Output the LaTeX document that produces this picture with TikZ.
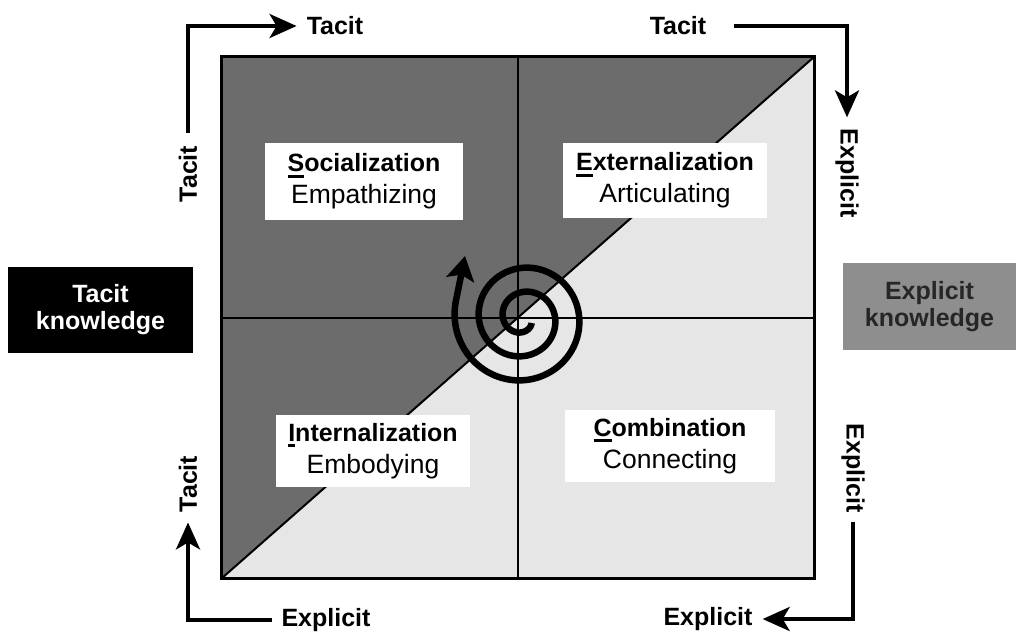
\documentclass[tikz,border=0pt]{standalone}
\usepackage{fontspec}
\setmainfont{Liberation Sans}
\usetikzlibrary{arrows.meta}
\definecolor{darkfill}{HTML}{6C6C6C}
\definecolor{lightfill}{HTML}{E6E6E6}
\definecolor{midfill}{HTML}{8E8E8E}
\newcommand\firstul[1]{\setbox0\hbox{#1}\rlap{\rule[-6pt]{\wd0}{3pt}}#1}
\tikzset{
  lbl/.style={font=\bfseries\fontsize{25}{28}\selectfont, inner sep=0pt},
  arr/.style={line width=4pt, -{Stealth[length=27pt,width=24pt,inset=7pt]}},
  quad/.style={fill=white, align=center, font=\fontsize{26.5}{32}\selectfont, inner sep=0pt},
  kbox/.style={align=center, inner sep=0pt, font=\bfseries\fontsize{25}{27}\selectfont},
}
\begin{document}
\begin{tikzpicture}[x=1pt,y=-1pt]
\useasboundingbox (0,0) rectangle (1016,632);
% main square
\node[minimum width=592pt, minimum height=521pt, inner sep=0pt] (sq) at (518,317.5) {};
\fill[darkfill] (sq.south west) -- (sq.north west) -- (sq.north east) -- cycle;
\fill[lightfill] (sq.south west) -- (sq.south east) -- (sq.north east) -- cycle;
\draw[line width=2pt] (sq.north) -- (sq.south);
\draw[line width=2pt] (sq.west) -- (sq.east);
\draw[line width=2pt] (sq.south west) -- (sq.north east);
\draw[line width=3pt] (sq.south west) rectangle (sq.north east);
% spiral
\coordinate (sptip) at (465,256);
\draw[line width=6.5pt, -{Stealth[length=24pt,width=28pt,inset=5pt]}]
  plot[domain=30:915, samples=300, variable=\t, smooth]
  ({523+(8+0.067*\t)*cos(\t)}, {318+(8+0.067*\t)*sin(\t)}) -- (sptip);
% quadrant labels
\node[quad, minimum width=198pt, minimum height=77pt] (soc) at (364,181.5)
  {{\bfseries\fontsize{25}{32}\selectfont\firstul{S}ocialization}\\Empathizing};
\node[quad, minimum width=204pt, minimum height=75pt] (ext) at (665,180.5)
  {{\bfseries\fontsize{25}{32}\selectfont\firstul{E}xternalization}\\Articulating};
\node[quad, minimum width=194pt, minimum height=72pt] (int) at (373,451)
  {{\bfseries\fontsize{25}{32}\selectfont\firstul{I}nternalization}\\Embodying};
\node[quad, minimum width=210pt, minimum height=72pt] (com) at (670,446)
  {{\bfseries\fontsize{25}{32}\selectfont\firstul{C}ombination}\\Connecting};
% knowledge boxes
\node[kbox, fill=black, text=white, minimum width=185pt, minimum height=86pt] (tk) at (100.5,310) {Tacit\\knowledge};
\node[kbox, fill=midfill, text=black!85, minimum width=173pt, minimum height=87pt] (ek) at (929.5,306.5) {Explicit\\knowledge};
% corner labels
\node[lbl, rotate=90] (tL) at (188,174) {Tacit};
\node[lbl] (tT) at (335,26) {Tacit};
\node[lbl] (tTR) at (678,26) {Tacit};
\node[lbl, rotate=-90] (eR1) at (847,173) {Explicit};
\node[lbl, rotate=-90] (eR2) at (853,468) {Explicit};
\node[lbl] (eB2) at (708,619) {Explicit};
\node[lbl] (eB1) at (326,620) {Explicit};
\node[lbl, rotate=90] (tL2) at (188,484) {Tacit};
% corner arrows
\draw[arr] ([yshift=13pt]tL.east) |- ([xshift=-10pt]tT.west);
\draw[arr] ([xshift=28pt]tTR.east) -| ([yshift=11pt]eR1.west);
\draw[arr] ([yshift=-9pt]eR2.east) |- ([xshift=10pt]eB2.east);
\draw[arr] ([xshift=-9pt]eB1.west) -| ([yshift=-10pt]tL2.west);
\end{tikzpicture}
\end{document}
